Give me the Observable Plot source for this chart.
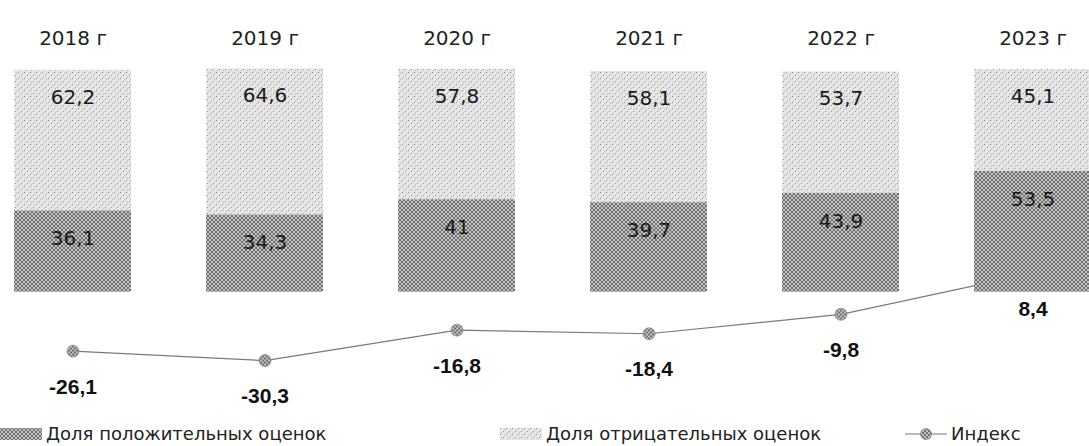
<!DOCTYPE html>
<html>
<head>
<meta charset="utf-8">
<script src="https://cdn.jsdelivr.net/npm/d3@7"></script>
<script src="https://cdn.jsdelivr.net/npm/@observablehq/plot@0.6"></script>
<style>
  html, body { margin: 0; padding: 0; background: #fff; }
  #wrap { position: relative; width: 1089px; height: 446px; overflow: hidden; font-family: "DejaVu Sans", sans-serif; }
  #legend { position: absolute; left: 0; top: 422px; width: 1089px; height: 24px; }
  .item { position: absolute; top: 0; height: 24px; display: flex; align-items: center; font-size: 18px; line-height: 20px; color: #222; white-space: nowrap; }
  .item svg { margin-right: 4px; }
</style>
</head>
<body>
<div id="wrap"><div id="chart"></div><div id="legend"></div></div>
<script>
// ---- data ----
const years = ["2018", "2019", "2020", "2021", "2022", "2023"];
const positive = [36.1, 34.3, 41, 39.7, 43.9, 53.5];
const negative = [62.2, 64.6, 57.8, 58.1, 53.7, 45.1];
const index = [-26.1, -30.3, -16.8, -18.4, -9.8, 8.4];
const seriesNames = ["Доля положительных оценок", "Доля отрицательных оценок", "Индекс"];

const data = years.map((y, i) => ({year: y, pos: positive[i], neg: negative[i], idx: index[i]}));
const fmt = v => String(v).replace(".", ",");

const chart = Plot.plot({
  width: 1089,
  height: 422,
  marginTop: 66,
  marginBottom: 40,
  marginLeft: 0,
  marginRight: 0,
  style: {fontFamily: "DejaVu Sans, sans-serif", color: "#222", background: "#fff"},
  x: {domain: years, range: [0, 1105], paddingInner: 0.39, paddingOuter: 0.058, axis: null},
  y: {domain: [-40, 100], axis: null},
  marks: [
    Plot.line(data, {x: "year", y: "idx", stroke: "#7a7a7a", strokeWidth: 1.2}),
    Plot.dot(data, {x: "year", y: "idx", r: 6, fill: "url(#patDark)", stroke: "#777", strokeWidth: 0.6}),
    Plot.barY(data, {x: "year", y1: 0, y2: "pos", fill: "url(#patDark)"}),
    Plot.barY(data, {x: "year", y1: "pos", y2: d => d.pos + d.neg, fill: "url(#patLight)"}),
    Plot.text(data, {x: "year", y: "pos", text: d => fmt(d.pos), dy: 28, fontSize: 20, fill: "#1a1a1a"}),
    Plot.text(data, {x: "year", y: d => d.pos + d.neg, text: d => fmt(d.neg), dy: 27, fontSize: 20, fill: "#1a1a1a"}),
    Plot.text(data, {x: "year", y: "idx", text: d => fmt(d.idx), dy: 36, fontSize: 21, fontWeight: "bold", fontFamily: "Liberation Sans, Arial, sans-serif", fill: "#111"}),
    Plot.text(years, {x: d => d, text: d => d + " г", frameAnchor: "top", dy: -36, fontSize: 20, fill: "#222"})
  ]
});

// texture patterns
const defs = d3.select(chart).insert("defs", ":first-child");
const pd = defs.append("pattern").attr("id", "patDark").attr("patternUnits", "userSpaceOnUse")
  .attr("width", 4).attr("height", 4);
pd.append("rect").attr("width", 4).attr("height", 4).attr("fill", "#c2c2c2");
pd.append("path").attr("d", "M0,0L4,4M4,0L0,4").attr("stroke", "#5c5c5c").attr("stroke-width", 0.8);
const pl = defs.append("pattern").attr("id", "patLight").attr("patternUnits", "userSpaceOnUse")
  .attr("width", 6).attr("height", 6);
pl.append("rect").attr("width", 6).attr("height", 6).attr("fill", "#e4e4e4");
pl.append("rect").attr("x", 0).attr("y", 0).attr("width", 1).attr("height", 1).attr("fill", "#8c8c8c");
pl.append("rect").attr("x", 3).attr("y", 3).attr("width", 1).attr("height", 1).attr("fill", "#9a9a9a");
pl.append("rect").attr("x", 4).attr("y", 1).attr("width", 1).attr("height", 1).attr("fill", "#b8b8b8");
pl.append("rect").attr("x", 1).attr("y", 4).attr("width", 1).attr("height", 1).attr("fill", "#b8b8b8");
pl.append("rect").attr("x", 2).attr("y", 1).attr("width", 1).attr("height", 1).attr("fill", "#f6f6f6");
pl.append("rect").attr("x", 5).attr("y", 4).attr("width", 1).attr("height", 1).attr("fill", "#f6f6f6");

document.getElementById("chart").appendChild(chart);

// legend
const legend = document.getElementById("legend");
const lefts = [0, 500, 905];
seriesNames.forEach((name, i) => {
  const item = document.createElement("div");
  item.className = "item";
  item.style.left = lefts[i] + "px";
  let sw;
  if (i < 2) {
    sw = `<svg width="42" height="12"><rect width="42" height="12" fill="url(#${i === 0 ? "patDark" : "patLight"})"/></svg>`;
  } else {
    sw = `<svg width="42" height="14"><line x1="0" x2="42" y1="7" y2="7" stroke="#7a7a7a" stroke-width="1.2"/><circle cx="21" cy="7" r="5.5" fill="url(#patDark)" stroke="#777" stroke-width="0.6"/></svg>`;
  }
  item.innerHTML = sw + `<span>${name}</span>`;
  legend.appendChild(item);
});
</script>
</body>
</html>
